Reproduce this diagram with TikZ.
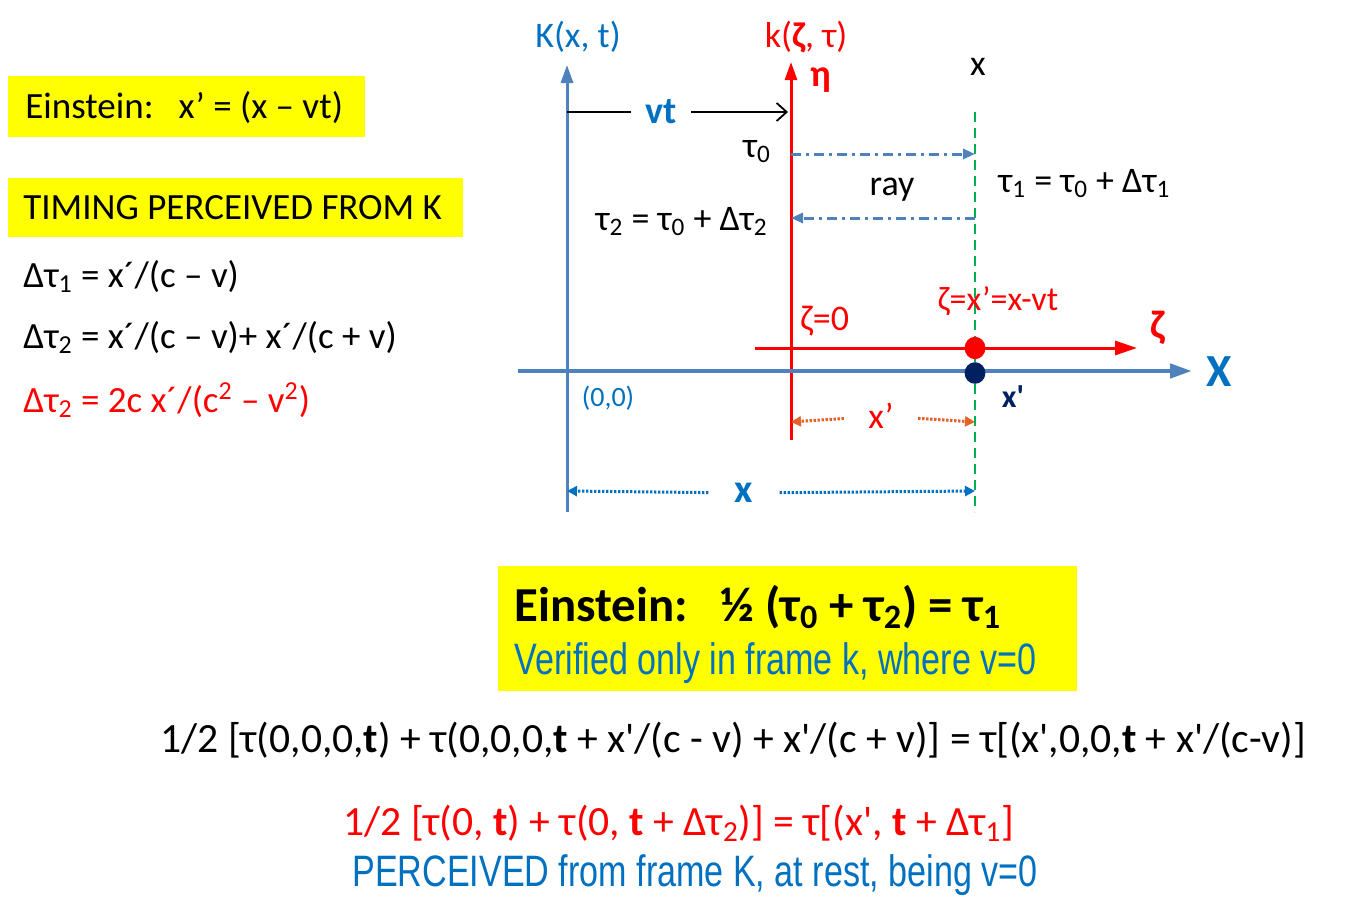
\documentclass[tikz,border=0pt]{standalone}
\usepackage{fontspec}
\setmainfont{Carlito}
\newfontfamily\narrowfont{Liberation Sans}[FakeStretch=0.775]
\usetikzlibrary{positioning,calc,arrows.meta}
\definecolor{kblue}{RGB}{0,112,192}
\definecolor{axblue}{RGB}{79,129,189}
\definecolor{hiyel}{RGB}{255,255,0}
\definecolor{gdash}{RGB}{0,176,80}
\definecolor{xorange}{RGB}{226,98,40}
\definecolor{navy}{RGB}{0,32,96}
\newcommand{\lo}[1]{\textsubscript{#1}}
\newcommand{\hi}[1]{\textsuperscript{#1}}
\newcommand{\sq}{\textquotesingle}

\tikzset{
  note/.style={font=\fontsize{18.5}{22}\selectfont, inner sep=0pt, anchor=base west},
  yelbox/.style={fill=hiyel, anchor=north west, inner sep=0pt},
  lbl/.style={font=\fontsize{18}{21}\selectfont, inner sep=0pt, anchor=base},
  axisK/.style={axblue, line width=1.5pt, -{Triangle[length=9pt,width=6pt]}},
  axisk/.style={red, line width=1.5pt, -{Triangle[length=9pt,width=6pt]}},
  rayline/.style={axblue, line width=1.5pt, dash pattern=on 5pt off 2.5pt on 1.5pt off 2.5pt, -{Triangle[length=6pt,width=5pt]}},
  dimline/.style={line width=1.5pt, dash pattern=on 1.2pt off 0.8pt, -{Triangle[length=5pt,width=5pt]}},
  eqline/.style={anchor=base west, inner sep=0pt, font=\fontsize{20.8}{24}\selectfont},
  narrowline/.style={anchor=base west, inner sep=0pt, kblue, font=\narrowfont\fontsize{22}{26}\selectfont},
}

\begin{document}
\begin{tikzpicture}[x=0.5pt,y=-0.5pt]
\useasboundingbox (0,0) rectangle (1371,921);
%\draw[step=50,gray,very thin] (0,0) grid (1371,921);

% left notes
\node[yelbox, minimum width=178.5pt, minimum height=30.5pt] (einbox) at (8,76) {};
\node[note] (ein) at (25,118) {Einstein:\ \ \ x’ = (x – vt)};
\node[yelbox, minimum width=227.5pt, minimum height=29.5pt] (timbox) at (8,178) {};
\node[note] (timing) at (23,219) {TIMING PERCEIVED FROM K};
\node[note] (dt1) at (23,287) {Δτ\lo{1} = x´/(c – v)};
\node[note] (dt2) at (23,348) {Δτ\lo{2} = x´/(c – v)+ x´/(c + v)};
\node[note, red] (dt2b) at (23,412) {Δτ\lo{2} = 2c x´/(c\hi{2} – v\hi{2})};

% frames
\coordinate (Kbot) at (567,512);
\coordinate (Ktop) at (567,65);
\coordinate (kbot) at (791,440);
\coordinate (ktop) at (791,62);
\coordinate (Xleft) at (518,371);
\coordinate (Xright) at (1192,371);
\coordinate (zleft) at (755,348);
\coordinate (zright) at (1137,348);
\coordinate (gtop) at (975,112);
\coordinate (gbot) at (975,512);

\draw[gdash, line width=1pt, dash pattern=on 5pt off 3pt] (gtop) -- (gbot);
\draw[axisK] (Kbot) -- (Ktop);
\draw[axisk] (kbot) -- (ktop);
\draw[axblue, line width=2.2pt, -{Triangle[length=11pt,width=7pt]}] (Xleft) -- (Xright);
\draw[red, line width=1.5pt, -{Triangle[length=11pt,width=7pt]}] (zleft) -- (zright);

\node[lbl, kblue] (Klbl) at (578,47) {K(x, t)};
\node[lbl, red] (klbl) at (806,47) {k(\textbf{ζ}, τ)};
\node[lbl, red, font=\bfseries\fontsize{19}{21}\selectfont] (eta) at (821,86) {η};
\node[lbl] (xtop) at (978,75) {x};
\node[lbl, red, font=\bfseries\fontsize{20}{22}\selectfont, anchor=center] (zeta) at (1158,328) {ζ};
\node[lbl, kblue, font=\bfseries\fontsize{23}{26}\selectfont, anchor=center] (Xlbl) at (1219,372) {X};

% vt
\coordinate (vtL) at (567,112);
\coordinate (vtR) at (788,112);
\node[lbl, kblue, font=\bfseries\fontsize{19}{21}\selectfont, anchor=center, inner xsep=7pt, inner ysep=2pt] (vt) at (661,112) {vt};
\draw[line width=0.9pt] (vtL) -- (vt);
\draw[line width=0.9pt, -{Straight Barb[length=5pt,width=9pt]}] (vt) -- (vtR);

% rays
\coordinate (r1a) at (791,154);
\coordinate (r1b) at (975,154);
\coordinate (r2a) at (975,218);
\coordinate (r2b) at (791,218);
\draw[rayline] (r1a) -- (r1b);
\draw[rayline] (r2a) -- (r2b);
\node[lbl] (tau0) at (757,157) {τ\lo{0}};
\node[lbl] (ray) at (892,195) {ray};
\node[lbl, anchor=base west] (tau1) at (998,192) {τ\lo{1} = τ\lo{0} + Δτ\lo{1}};
\node[lbl, anchor=base east] (tau2) at (768,230) {τ\lo{2} = τ\lo{0} + Δτ\lo{2}};

% points
\node[lbl, red, anchor=base west] (z0) at (800,330) {ζ=0};
\node[lbl, red, font=\fontsize{17}{20}\selectfont] (zx) at (998,310) {ζ=x’=x-vt};
\node[lbl, kblue, font=\fontsize{14}{16}\selectfont] (orig) at (608,406) {(0,0)};
\fill[red] (975,348) ellipse (5.2pt and 5.6pt);
\fill[navy] (975,373) ellipse (5.2pt and 5.4pt);
\node[lbl, navy, font=\bfseries\fontsize{16}{18}\selectfont] (xp) at (1013,407) {x\sq};

% distances
\coordinate (xpL) at (791,422);
\coordinate (xpR) at (975,422);
\node[lbl, red, anchor=center, inner xsep=12pt] (xplbl) at (881,416) {x’};
\draw[dimline, xorange] (xplbl) -- (xpL);
\draw[dimline, xorange] (xplbl) -- (xpR);
\coordinate (xL) at (567,491);
\coordinate (xR) at (975,491);
\node[lbl, kblue, font=\bfseries\fontsize{20}{22}\selectfont, anchor=center, inner xsep=13pt] (xlbl) at (744,493) {x};
\draw[dimline, kblue] (xlbl) -- (xL);
\draw[dimline, kblue] (xlbl) -- (xR);

% bottom
\node[yelbox, minimum width=289.5pt, minimum height=62.5pt] (bigbox) at (498,566) {};
\node[eqline, font=\bfseries\fontsize{24.4}{28}\selectfont] (einb) at (514,621) {Einstein:\ \ \ ½ (τ\lo{0} + τ\lo{2}) = τ\lo{1}};
\node[narrowline] (verif) at (514,674) {Verified only in frame k, where v=0};
\node[eqline] (long) at (160,752) {1/2 [τ(0,0,0,\textbf{t}) + τ(0,0,0,\textbf{t} + x\sq/(c - v) + x\sq/(c + v)] = τ[(x\sq,0,0,\textbf{t} + x\sq/(c-v)]};
\node[eqline, red] (redeq) at (343,835) {1/2 [τ(0, \textbf{t}) + τ(0, \textbf{t} + Δτ\lo{2})] = τ[(x\sq, \textbf{t} + Δτ\lo{1}]};
\node[narrowline] (perc) at (352,886) {PERCEIVED from frame K, at rest, being v=0};
\end{tikzpicture}
\end{document}
